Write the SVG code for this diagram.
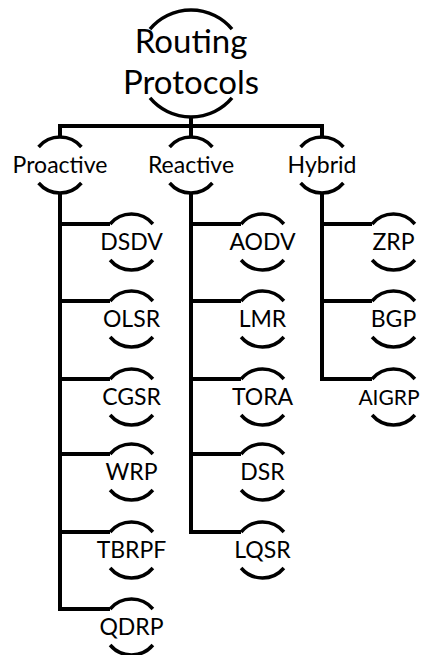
<svg xmlns="http://www.w3.org/2000/svg" width="425" height="655" viewBox="0 0 425 655">
<style>
.arc{fill:none;stroke:#000;stroke-width:3.5}
.ln{fill:none;stroke:#000;stroke-width:4;stroke-linejoin:miter}
text{font-family:Lato,"Open Sans",sans-serif;fill:#000;text-anchor:middle}
.r{font-size:33px}
.m{font-size:23px}
.l{font-size:23px}
</style>
<rect width="425" height="655" fill="#fff"/>
<g id="connectors">
<path class="ln" d="M191 117V126M60 138V126H322V138M191 126V138"/>
<path class="ln" d="M60 193V609H110M60 224H110M60 301H110M60 379H110M60 454H110M60 532H110"/>
<path class="ln" d="M191 193V532H241M191 224H241M191 301H241M191 379H241M191 454H241"/>
<path class="ln" d="M322 193V379H372M322 224H372M322 301H372"/>
</g>
<g id="root">
<path class="arc" d="M150 29.1A53.5 53.5 0 0 1 232 29.1M150 97.9A53.5 53.5 0 0 0 232 97.9"/>
<text class="r" x="191" y="53">Routing</text>
<text class="r" x="191" y="94">Protocols</text>
</g>
<g id="proactive">
<path class="arc" d="M38.6 147A28 28 0 0 1 81.4 147M38.6 183A28 28 0 0 0 81.4 183"/>
<text class="m" x="60" y="173">Proactive</text>
</g>
<g id="reactive">
<path class="arc" d="M169.6 147A28 28 0 0 1 212.4 147M169.6 183A28 28 0 0 0 212.4 183"/>
<text class="m" x="191" y="173">Reactive</text>
</g>
<g id="hybrid">
<path class="arc" d="M300.6 147A28 28 0 0 1 343.4 147M300.6 183A28 28 0 0 0 343.4 183"/>
<text class="m" x="322" y="173">Hybrid</text>
</g>
<g id="dsdv"><path class="arc" d="M110.1 224A28 28 0 0 1 152.9 224M110.1 260A28 28 0 0 0 152.9 260"/><text class="l" x="131.5" y="250">DSDV</text></g>
<g id="olsr"><path class="arc" d="M110.1 301A28 28 0 0 1 152.9 301M110.1 337A28 28 0 0 0 152.9 337"/><text class="l" x="131.5" y="327">OLSR</text></g>
<g id="cgsr"><path class="arc" d="M110.1 379A28 28 0 0 1 152.9 379M110.1 415A28 28 0 0 0 152.9 415"/><text class="l" x="131.5" y="405">CGSR</text></g>
<g id="wrp"><path class="arc" d="M110.1 454A28 28 0 0 1 152.9 454M110.1 490A28 28 0 0 0 152.9 490"/><text class="l" x="131.5" y="480">WRP</text></g>
<g id="tbrpf"><path class="arc" d="M110.1 532A28 28 0 0 1 152.9 532M110.1 568A28 28 0 0 0 152.9 568"/><text class="l" x="131.5" y="558">TBRPF</text></g>
<g id="qdrp"><path class="arc" d="M110.1 609A28 28 0 0 1 152.9 609M110.1 645A28 28 0 0 0 152.9 645"/><text class="l" x="131.5" y="635">QDRP</text></g>
<g id="aodv"><path class="arc" d="M241.1 224A28 28 0 0 1 283.9 224M241.1 260A28 28 0 0 0 283.9 260"/><text class="l" x="262.5" y="250">AODV</text></g>
<g id="lmr"><path class="arc" d="M241.1 301A28 28 0 0 1 283.9 301M241.1 337A28 28 0 0 0 283.9 337"/><text class="l" x="262.5" y="327">LMR</text></g>
<g id="tora"><path class="arc" d="M241.1 379A28 28 0 0 1 283.9 379M241.1 415A28 28 0 0 0 283.9 415"/><text class="l" x="262.5" y="405">TORA</text></g>
<g id="dsr"><path class="arc" d="M241.1 454A28 28 0 0 1 283.9 454M241.1 490A28 28 0 0 0 283.9 490"/><text class="l" x="262.5" y="480">DSR</text></g>
<g id="lqsr"><path class="arc" d="M241.1 532A28 28 0 0 1 283.9 532M241.1 568A28 28 0 0 0 283.9 568"/><text class="l" x="262.5" y="558">LQSR</text></g>
<g id="zrp"><path class="arc" d="M372.1 224A28 28 0 0 1 414.9 224M372.1 260A28 28 0 0 0 414.9 260"/><text class="l" x="393.5" y="250">ZRP</text></g>
<g id="bgp"><path class="arc" d="M372.1 301A28 28 0 0 1 414.9 301M372.1 337A28 28 0 0 0 414.9 337"/><text class="l" x="393.5" y="327">BGP</text></g>
<g id="aigrp"><path class="arc" d="M372.1 379A28 28 0 0 1 414.9 379M372.1 415A28 28 0 0 0 414.9 415"/><text x="389" y="405" style="font-size:21px">AIGRP</text></g>
</svg>
